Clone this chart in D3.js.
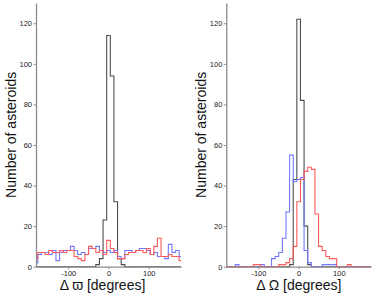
<!DOCTYPE html>
<html>
<head>
<meta charset="utf-8">
<script src="https://cdn.jsdelivr.net/npm/d3@7"></script>
<style>
  body { margin: 0; background: #fff; }
  svg { display: block; font-family: "Liberation Sans", Arial, sans-serif; }
  .axis path, .axis line { stroke: #8c8c8c; }
  .axis text { fill: #222; font-size: 7.5px; }
  .label { font-size: 14px; fill: #111; }
</style>
</head>
<body>
<svg id="chart" width="374" height="295"></svg>
<script>
// bin centres, 9 degree bins
var binCenters = d3.range(-180, 181, 9);

// left panel: delta varpi
var varpiBlack = {"-27": 1, "-18": 4, "-9": 23, "0": 114, "9": 94, "18": 32, "27": 4, "36": 1};
var varpiBlue = [2, 6, 7, 7, 6, 8, 3, 7, 8, 8, 10, 8, 6, 7, 6, 9, 9, 10, 8, 7, 8,
                 7, 8, 5, 4, 8, 8, 7, 8, 9, 9, 8, 6, 7, 5, 5, 4, 11, 7, 8, 5];
var varpiRed  = [4, 7, 7, 6, 8, 7, 7, 8, 7, 8, 8, 5, 4, 3, 6, 10, 9, 7, 8, 6, 13,
                 9, 7, 4, 4, 6, 7, 7, 8, 8, 7, 9, 6, 10, 14, 5, 5, 6, 5, 5, 3];

// right panel: delta Omega
var omegaBlack = {"-18": 1, "-9": 43, "0": 122, "9": 82, "18": 20, "27": 1};
var omegaBlue  = {"-153": 1, "-90": 1, "-63": 4, "-54": 5, "-45": 7, "-36": 14, "-27": 27,
                  "-18": 55, "-9": 42, "0": 43, "9": 44, "18": 8, "27": 2,
                  "63": 1, "72": 1, "81": 1, "90": 1};
var omegaRed   = {"-108": 1, "-99": 1, "-45": 1, "-36": 1, "-27": 2, "-18": 4, "-9": 10,
                  "0": 32, "9": 43, "18": 47, "27": 49, "36": 48, "45": 26, "54": 10,
                  "63": 8, "72": 5, "81": 4, "90": 4, "126": 1};

var yTicks = [0, 20, 40, 60, 80, 100, 120];
var xTicks = [-100, 0, 100];

function fromSparse(obj) {
  return binCenters.map(function(c) { return obj[String(c)] || 0; });
}

var panels = [
  {left: 36, right: 181, xlabel: "\u0394 \u03d6 [degrees]", xlabelX: 102.5, ylabelX: 16,
   series: [
     {values: fromSparse(varpiBlack), color: "#4d4d4d"},
     {values: varpiBlue, color: "#6f78ff"},
     {values: varpiRed, color: "#ff5a5a"}
   ]},
  {left: 226.3, right: 371, xlabel: "\u0394 \u03a9 [degrees]", xlabelX: 298.8, ylabelX: 206,
   series: [
     {values: fromSparse(omegaBlack), color: "#4d4d4d"},
     {values: fromSparse(omegaBlue), color: "#6f78ff"},
     {values: fromSparse(omegaRed), color: "#ff5a5a"}
   ]}
];

var svg = d3.select("#chart"),
    plotTop = 3,
    plotBottom = 266.7,
    binWidth = 9;

var y = d3.scaleLinear().domain([0, 130]).range([plotBottom, plotTop]);

panels.forEach(function(p, pi) {
  var x = d3.scaleLinear().domain([-180, 180]).range([p.left, p.right]);
  var g = svg.append("g");

  g.append("clipPath").attr("id", "clip" + pi)
    .append("rect")
      .attr("x", p.left)
      .attr("y", 0)
      .attr("width", p.right - p.left)
      .attr("height", plotBottom + 2);

  // outline histograms
  var line = d3.line().x(function(d) { return x(d[0]); }).y(function(d) { return y(d[1]); });
  p.series.forEach(function(s) {
    var pts = [[binCenters[0] - binWidth / 2, 0]];
    s.values.forEach(function(v, i) {
      pts.push([binCenters[i] - binWidth / 2, v]);
      pts.push([binCenters[i] + binWidth / 2, v]);
    });
    pts.push([binCenters[binCenters.length - 1] + binWidth / 2, 0]);
    g.append("path")
        .attr("clip-path", "url(#clip" + pi + ")")
        .attr("d", line(pts))
        .style("fill", "none")
        .style("stroke", s.color)
        .style("stroke-width", 1.1);
  });

  g.append("g")
      .attr("class", "axis")
      .attr("transform", "translate(" + p.left + ",0)")
      .call(d3.axisLeft(y).tickValues(yTicks).tickSizeInner(2.5).tickSizeOuter(0).tickPadding(1.5)
        .tickFormat(function(d) { return String(d); }));

  g.append("g")
      .attr("class", "axis")
      .attr("transform", "translate(0," + plotBottom + ")")
      .call(d3.axisBottom(x).tickValues(xTicks).tickSizeInner(2.5).tickSizeOuter(0).tickPadding(1)
        .tickFormat(function(d) { return String(d); }));

  g.selectAll(".axis .domain").style("stroke-width", 1.3);

  g.append("text")
      .attr("class", "label")
      .attr("text-anchor", "middle")
      .attr("x", p.xlabelX)
      .attr("y", 290)
      .text(p.xlabel);

  g.append("text")
      .attr("class", "label")
      .attr("text-anchor", "middle")
      .attr("transform", "translate(" + p.ylabelX + "," + ((plotTop + plotBottom) / 2) + ") rotate(-90)")
      .text("Number of asteroids");
});
</script>
</body>
</html>
